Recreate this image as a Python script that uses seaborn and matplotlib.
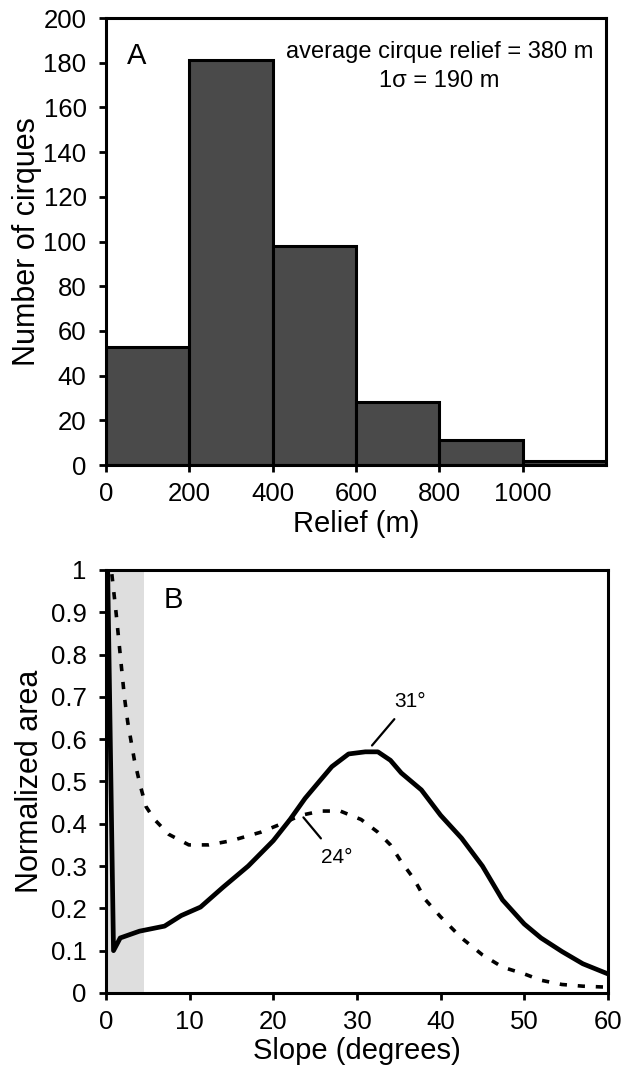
import pandas as pd
import seaborn as sns
import matplotlib.pyplot as plt

# Panel A: cirque relief histogram
relief_edges = [0, 200, 400, 600, 800, 1000, 1200]
relief_centers = [100, 300, 500, 700, 900, 1100]
relief_counts = [53, 181, 98, 28, 11, 2]

# Panel B: slope distributions
slope_solid = [0.2, 0.9, 1.7, 4, 7, 9, 11.3, 14, 17, 20, 22, 23.8, 25.5, 27, 29, 31, 32.5,
               34, 35.3, 37.7, 40, 42.5, 45, 47.4, 50, 52, 54.5, 57, 60]
area_solid = [1.0, 0.10, 0.13, 0.146, 0.158, 0.183, 0.203, 0.25, 0.30, 0.36, 0.41, 0.46,
              0.50, 0.535, 0.565, 0.57, 0.57, 0.55, 0.52, 0.48, 0.42, 0.366, 0.30, 0.22,
              0.163, 0.13, 0.098, 0.069, 0.045]
slope_dashed = [0.7, 1.2, 1.7, 2.2, 2.6, 3.4, 4.1, 4.8, 5.8, 7.5, 9.9, 12.3, 15, 18.5,
                21, 23.3, 25.7, 28, 30.5, 32.5, 34, 35.3, 36.8, 38.2, 40, 42.5, 45,
                47.4, 50, 52, 54.5, 57, 59.5]
area_dashed = [0.99, 0.90, 0.80, 0.70, 0.64, 0.55, 0.49, 0.44, 0.41, 0.375, 0.35, 0.35,
               0.36, 0.38, 0.40, 0.42, 0.43, 0.43, 0.41, 0.38, 0.35, 0.31, 0.27, 0.22,
               0.18, 0.13, 0.09, 0.061, 0.045, 0.03, 0.02, 0.016, 0.014]

sns.set_style("ticks")
plt.rcParams["font.family"] = ["Liberation Sans", "DejaVu Sans"]
plt.rcParams.update({"text.color": "black", "axes.labelcolor": "black",
                     "xtick.color": "black", "ytick.color": "black"})

fig = plt.figure(figsize=(6.29, 10.78), dpi=100)
ax1 = fig.add_axes([0.1685, 0.5686, 0.795, 0.4147])
ax2 = fig.add_axes([0.1685, 0.0789, 0.798, 0.3924])

# --- A ---
sns.histplot(x=relief_centers, weights=relief_counts, bins=relief_edges, ax=ax1,
             color="#4a4a4a", edgecolor="black", linewidth=2.2, alpha=1)
ax1.set_xlim(0, 1200)
ax1.set_ylim(0, 200)
ax1.set_xticks(range(0, 1001, 200))
ax1.set_yticks(range(0, 201, 20))
ax1.set_xlabel("Relief (m)", fontsize=21)
ax1.set_ylabel("Number of cirques", fontsize=22)
ax1.xaxis.set_label_coords(0.5, -0.1)
ax1.yaxis.set_label_coords(-0.128, 0.5)
ax1.text(74, 183, "A", fontsize=21, ha="center", va="center")
ax1.text(800, 185, "average cirque relief = 380 m", fontsize=17, ha="center", va="center")
ax1.text(800, 172, "1σ = 190 m", fontsize=17, ha="center", va="center")

# --- B ---
ax2.axvspan(0, 4.6, color="#dedede", lw=0, zorder=0)
df_s = pd.DataFrame({"slope": slope_solid, "area": area_solid})
df_d = pd.DataFrame({"slope": slope_dashed, "area": area_dashed})
sns.lineplot(data=df_s, x="slope", y="area", ax=ax2, color="black", lw=3.4, sort=False)
sns.lineplot(data=df_d, x="slope", y="area", ax=ax2, color="black", lw=2.6,
             dashes=False, sort=False, linestyle=(0, (2.0, 3.0)))
ax2.set_xlim(0, 60)
ax2.set_ylim(0, 1)
ax2.set_xticks(range(0, 61, 10))
ax2.set_yticks([i / 10 for i in range(11)])
ax2.set_yticklabels(["0"] + [f"{i/10:.1f}" for i in range(1, 10)] + ["1"])
ax2.set_xlabel("Slope (degrees)", fontsize=21)
ax2.set_ylabel("Normalized area", fontsize=22)
ax2.xaxis.set_label_coords(0.5, -0.105)
ax2.yaxis.set_label_coords(-0.122, 0.5)
ax2.text(8, 0.93, "B", fontsize=21, ha="center", va="center")
ax2.annotate("31°", xy=(31.8, 0.585), xytext=(36.3, 0.69), fontsize=15,
             ha="center", va="center",
             arrowprops=dict(arrowstyle="-", color="black", lw=1.6, shrinkA=5, shrinkB=0))
ax2.annotate("24°", xy=(23.6, 0.415), xytext=(27.6, 0.32), fontsize=15,
             ha="center", va="center",
             arrowprops=dict(arrowstyle="-", color="black", lw=1.6, shrinkA=6, shrinkB=0))

for ax in (ax1, ax2):
    for s in ax.spines.values():
        s.set_linewidth(2.2)
        s.set_color("black")
    ax.tick_params(axis="both", labelsize=18.5, width=2, length=5, color="black",
                   labelcolor="black", direction="out")
    ax.tick_params(axis="y", pad=9)
    ax.tick_params(axis="x", pad=7)

fig.savefig("out.png", dpi=100)
